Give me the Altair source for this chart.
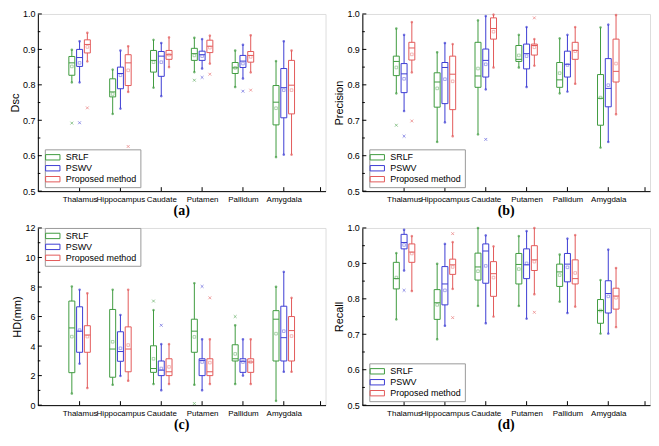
import altair as alt
import pandas as pd

regions = ["Thalamus", "Hippocampus", "Caudate", "Putamen", "Pallidum", "Amygdala"]
methods = ["SRLF", "PSWV", "Proposed method"]
colors = ["#3f9b3f", "#3c3cd4", "#e35a5a"]

# stats per region: [min, q1, median, q3, max, mean]
DSC_SRLF = [[0.807, 0.827, 0.862, 0.880, 0.899, 0.852], [0.718, 0.766, 0.780, 0.817, 0.843, 0.774],
            [0.792, 0.836, 0.869, 0.897, 0.927, 0.864], [0.836, 0.869, 0.888, 0.903, 0.933, 0.883],
            [0.794, 0.832, 0.848, 0.863, 0.897, 0.848], [0.596, 0.687, 0.751, 0.798, 0.867, 0.734]]
DSC_PSWV = [[0.807, 0.852, 0.877, 0.900, 0.923, 0.862], [0.733, 0.789, 0.832, 0.850, 0.897, 0.827],
            [0.768, 0.824, 0.881, 0.894, 0.918, 0.864], [0.846, 0.869, 0.885, 0.895, 0.929, 0.881],
            [0.818, 0.849, 0.867, 0.883, 0.913, 0.860], [0.603, 0.707, 0.792, 0.846, 0.923, 0.785]]
DSC_PROP = [[0.866, 0.890, 0.914, 0.927, 0.947, 0.907], [0.780, 0.798, 0.862, 0.885, 0.909, 0.841],
            [0.850, 0.872, 0.885, 0.897, 0.934, 0.885], [0.860, 0.891, 0.909, 0.926, 0.939, 0.905],
            [0.835, 0.864, 0.883, 0.894, 0.940, 0.879], [0.603, 0.718, 0.799, 0.869, 0.897, 0.785]]
DSC_OUT = [("Thalamus", "SRLF", 0.692), ("Thalamus", "PSWV", 0.693), ("Thalamus", "Proposed method", 0.735),
           ("Hippocampus", "Proposed method", 0.626), ("Putamen", "SRLF", 0.813), ("Putamen", "PSWV", 0.821),
           ("Putamen", "Proposed method", 0.830), ("Pallidum", "PSWV", 0.782), ("Pallidum", "Proposed method", 0.785)]

PRE_SRLF = [[0.776, 0.826, 0.866, 0.881, 0.959, 0.849], [0.639, 0.737, 0.808, 0.834, 0.892, 0.790],
            [0.660, 0.793, 0.825, 0.920, 0.982, 0.846], [0.849, 0.866, 0.872, 0.911, 0.941, 0.883],
            [0.776, 0.793, 0.814, 0.863, 0.931, 0.833], [0.623, 0.686, 0.762, 0.829, 0.962, 0.764]]
PRE_PSWV = [[0.726, 0.778, 0.831, 0.860, 0.941, 0.817], [0.694, 0.747, 0.849, 0.863, 0.918, 0.816],
            [0.787, 0.822, 0.869, 0.901, 0.994, 0.858], [0.794, 0.845, 0.888, 0.915, 0.963, 0.881],
            [0.781, 0.822, 0.858, 0.895, 0.941, 0.856], [0.639, 0.738, 0.790, 0.874, 0.970, 0.799]]
PRE_PROP = [[0.835, 0.870, 0.904, 0.920, 0.977, 0.886], [0.655, 0.730, 0.830, 0.881, 0.915, 0.810],
            [0.849, 0.929, 0.959, 0.989, 0.998, 0.950], [0.854, 0.884, 0.911, 0.915, 0.929, 0.906],
            [0.803, 0.872, 0.897, 0.920, 0.963, 0.895], [0.717, 0.808, 0.838, 0.929, 0.997, 0.860]]
PRE_OUT = [("Thalamus", "SRLF", 0.686), ("Thalamus", "PSWV", 0.655), ("Thalamus", "Proposed method", 0.698),
           ("Caudate", "PSWV", 0.646), ("Putamen", "Proposed method", 0.989)]

HD_SRLF = [[0.79, 2.20, 5.23, 7.05, 8.04, 4.64], [1.38, 1.89, 3.80, 6.48, 7.82, 4.29],
           [1.43, 2.22, 2.48, 4.02, 6.44, 3.14], [1.38, 3.58, 5.01, 5.82, 8.26, 4.62],
           [1.43, 2.99, 3.14, 4.09, 5.41, 3.47], [0.29, 2.99, 5.82, 6.40, 8.02, 4.84]]
HD_PSWV = [[2.81, 3.58, 5.01, 6.66, 7.82, 5.08], [1.98, 2.97, 3.63, 4.97, 6.11, 3.85],
           [1.01, 2.00, 2.37, 2.99, 4.13, 2.48], [1.01, 2.00, 3.03, 3.14, 4.46, 2.92],
           [2.00, 2.22, 2.97, 3.14, 4.46, 2.92], [2.26, 2.99, 4.57, 6.70, 9.03, 5.01]]
HD_PROP = [[1.16, 3.58, 4.75, 5.38, 7.58, 4.64], [1.65, 2.26, 3.80, 5.30, 7.82, 4.07],
           [1.43, 2.00, 2.26, 3.14, 4.13, 2.59], [1.43, 2.00, 2.26, 3.14, 4.46, 2.88],
           [1.43, 2.22, 2.92, 3.14, 4.46, 2.92], [2.26, 2.99, 5.05, 6.00, 7.27, 4.68]]
HD_OUT = [("Caudate", "SRLF", 7.05), ("Caudate", "PSWV", 5.41), ("Putamen", "SRLF", 0.11),
          ("Putamen", "PSWV", 8.04), ("Putamen", "Proposed method", 7.27), ("Pallidum", "SRLF", 6.0)]

REC_SRLF = [[0.742, 0.828, 0.857, 0.903, 0.929, 0.860], [0.686, 0.742, 0.789, 0.826, 0.899, 0.783],
            [0.780, 0.853, 0.890, 0.929, 1.000, 0.878], [0.780, 0.842, 0.897, 0.928, 0.977, 0.884],
            [0.792, 0.835, 0.876, 0.898, 0.925, 0.867], [0.702, 0.731, 0.767, 0.798, 0.853, 0.767]]
REC_PSWV = [[0.880, 0.941, 0.959, 0.982, 0.995, 0.952], [0.724, 0.783, 0.842, 0.891, 0.955, 0.824],
            [0.731, 0.844, 0.935, 0.955, 0.979, 0.893], [0.744, 0.857, 0.896, 0.941, 0.991, 0.900],
            [0.760, 0.848, 0.898, 0.928, 0.970, 0.889], [0.702, 0.760, 0.815, 0.851, 0.939, 0.807]]
REC_PROP = [[0.822, 0.903, 0.932, 0.955, 0.977, 0.928], [0.828, 0.869, 0.896, 0.912, 0.960, 0.890],
            [0.750, 0.807, 0.871, 0.905, 0.948, 0.860], [0.813, 0.880, 0.910, 0.950, 1.000, 0.905],
            [0.778, 0.842, 0.857, 0.910, 0.980, 0.873], [0.720, 0.771, 0.808, 0.830, 0.887, 0.803]]
REC_OUT = [("Thalamus", "PSWV", 0.824), ("Hippocampus", "Proposed method", 0.984),
           ("Hippocampus", "Proposed method", 0.747), ("Putamen", "Proposed method", 0.762)]

W, H = 289, 178
XDOM = [0.1, 6.9]
FONT = "Liberation Sans"
cscale = alt.Scale(domain=methods, range=colors)
label_expr = "[''," + ",".join("'%s'" % r for r in regions) + ",''][datum.value]"
XCALC = "datum.ri + (datum.mi - 1) * 0.19"


def stats_frame(groups):
    rows = []
    for mi, grp in enumerate(groups):
        for ri, s in enumerate(grp):
            rows.append({"ri": ri + 1, "mi": mi, "method": methods[mi],
                         "mn": s[0], "q1": s[1], "med": s[2], "q3": s[3], "mx": s[4], "mean": s[5]})
    return pd.DataFrame(rows)


def out_frame(outs):
    return pd.DataFrame([{"ri": regions.index(r) + 1, "mi": methods.index(m), "method": m, "v": v}
                         for r, m, v in outs])


def panel(groups, outs, ytitle, ydom, ystep, yfmt, tag, legend_y):
    df = stats_frame(groups)
    od = out_frame(outs)
    xs = alt.Scale(domain=XDOM, nice=False, zero=False)
    ys = alt.Scale(domain=ydom, nice=False, zero=False)
    nmaj = int(round((ydom[1] - ydom[0]) / ystep))
    majors = [ydom[0] + i * ystep for i in range(nmaj + 1)]
    minors = [ydom[0] + (i + 0.5) * ystep for i in range(nmaj)]
    xaxis = alt.Axis(values=[1, 2, 3, 4, 5, 6], labelExpr=label_expr, ticks=False, grid=False,
                     title=None, labelFontSize=8, labelPadding=4, labelOverlap=False,
                     labelFont=FONT, labelColor="black", domainColor="black")
    yaxis = alt.Axis(values=majors, format=yfmt, ticks=False, grid=False, title=ytitle,
                     labelFontSize=9, labelPadding=3, labelFont=FONT, labelColor="black",
                     titleFont=FONT, titleFontSize=11, titleFontWeight="normal", titleColor="black",
                     titlePadding=2, domainColor="black")
    legend = alt.Legend(
        orient="none", legendX=7, legendY=legend_y, direction="vertical", title=None,
        symbolType="M-1.6,-0.6H1.6V0.6H-1.6Z", symbolSize=81, symbolStrokeWidth=1,
        symbolFillColor="white", symbolOpacity=1, labelFontSize=9, labelFont=FONT, labelColor="black",
        rowPadding=1, padding=3, strokeColor="#999999", fillColor="white",
        labelOffset=8, labelLimit=200)
    X = alt.X("xp:Q", scale=xs, axis=xaxis)
    col = alt.Stroke("method:N", scale=cscale, legend=legend)
    base = alt.Chart(df).transform_calculate(xp=XCALC)

    def Y(f):
        return alt.Y(f + ":Q", scale=ys, axis=yaxis)

    whisk = base.mark_rule(strokeWidth=1).encode(x=X, y=Y("mn"), y2="mx:Q", stroke=col)
    cap_lo = base.mark_point(size=2, strokeWidth=1.2).encode(x=X, y=Y("mn"), stroke=col)
    cap_hi = base.mark_point(size=2, strokeWidth=1.2).encode(x=X, y=Y("mx"), stroke=col)
    box = base.mark_bar(size=6, fill="white", strokeWidth=1).encode(x=X, y=Y("q1"), y2="q3:Q", stroke=col)
    med = base.transform_calculate(xa="datum.xp - 0.072", xb="datum.xp + 0.072").mark_rule(
        strokeWidth=1).encode(x=alt.X("xa:Q", scale=xs, axis=xaxis), x2="xb:Q", y=Y("med"), stroke=col)
    mean = base.mark_point(shape="square", size=7, strokeWidth=0.7, opacity=0.6).encode(
        x=X, y=Y("mean"), stroke=col)
    outl = alt.Chart(od).transform_calculate(xp=XCALC).mark_point(
        shape="M-1,-1L1,1M-1,1L1,-1", size=8, strokeWidth=0.8, opacity=0.7).encode(
        x=X, y=Y("v"), stroke=col)

    ymaj = alt.Chart(pd.DataFrame({"v": majors})).mark_rule(color="black").encode(
        y=alt.Y("v:Q", scale=ys, axis=yaxis), x=alt.value(0), x2=alt.value(4))
    ymin = alt.Chart(pd.DataFrame({"v": minors})).mark_rule(color="black").encode(
        y=alt.Y("v:Q", scale=ys, axis=yaxis), x=alt.value(0), x2=alt.value(2.5))
    xt = alt.Chart(pd.DataFrame({"v": [1, 2, 3, 4, 5, 6, XDOM[1]]})).mark_rule(color="black").encode(
        x=alt.X("v:Q", scale=xs, axis=xaxis), y=alt.value(H), y2=alt.value(H - 4))

    return alt.layer(whisk, cap_lo, cap_hi, box, med, mean, outl, ymaj, ymin, xt).properties(
        width=W, height=H,
        title=alt.TitleParams(tag, orient="bottom", font="Liberation Serif", fontSize=14,
                              fontWeight="bold", offset=1, anchor="middle", color="black"))


pa = panel([DSC_SRLF, DSC_PSWV, DSC_PROP], DSC_OUT, "Dsc", [0.5, 1.0], 0.1, ".1f", "(a)", H - 42)
pb = panel([PRE_SRLF, PRE_PSWV, PRE_PROP], PRE_OUT, "Precision", [0.5, 1.0], 0.1, ".1f", "(b)", H - 42)
pc = panel([HD_SRLF, HD_PSWV, HD_PROP], HD_OUT, "HD(mm)", [0, 12], 2, "d", "(c)", 0)
pd_ = panel([REC_SRLF, REC_PSWV, REC_PROP], REC_OUT, "Recall", [0.5, 1.0], 0.1, ".1f", "(d)", H - 42)

row1 = alt.hconcat(pa, pb, spacing=6).resolve_scale(stroke="independent").resolve_legend(stroke="independent")
row2 = alt.hconcat(pc, pd_, spacing=6).resolve_scale(stroke="independent").resolve_legend(stroke="independent")
chart = alt.vconcat(row1, row2, spacing=4).resolve_scale(stroke="independent").resolve_legend(
    stroke="independent").properties(padding=0).configure_view(stroke=None).configure(background="white")

chart.save("out.html", embed_options={"renderer": "svg", "actions": False})
